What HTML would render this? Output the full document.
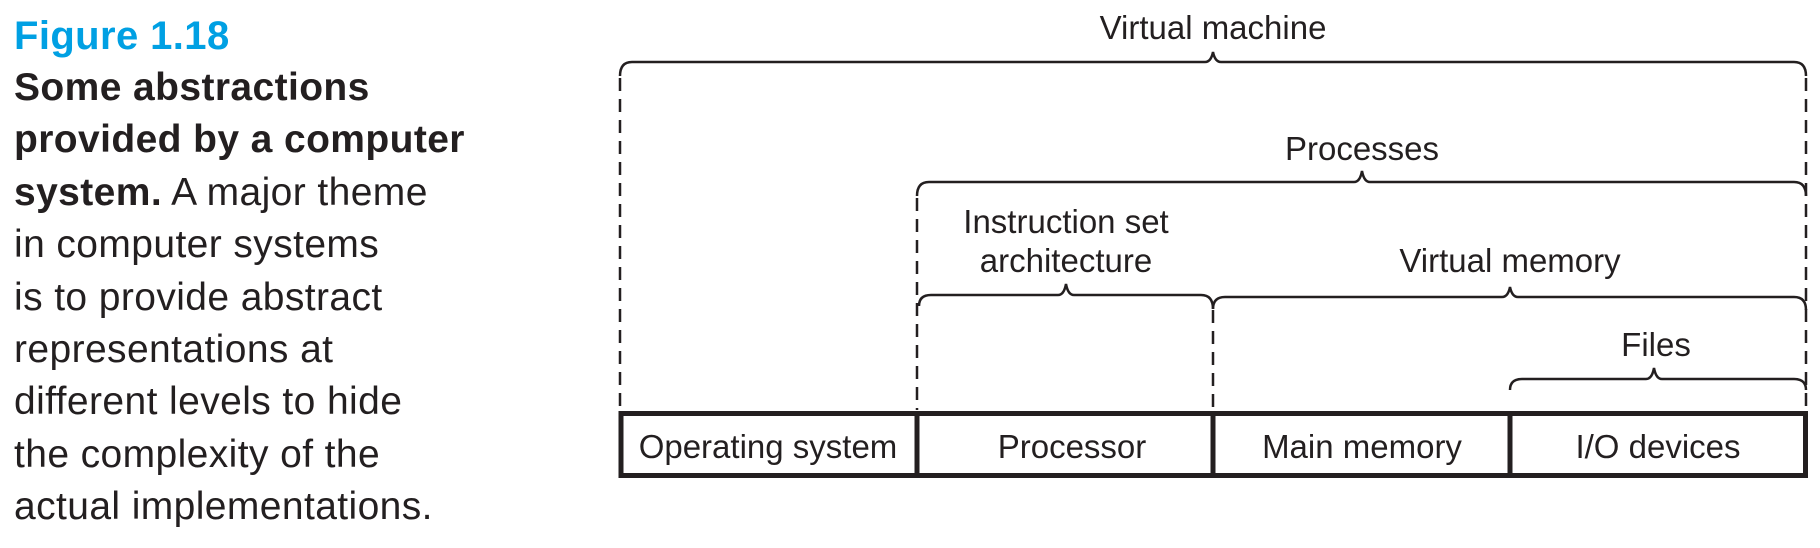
<!DOCTYPE html>
<html><head><meta charset="utf-8"><style>
html,body{margin:0;padding:0;background:#fff;}
body{width:1820px;height:548px;overflow:hidden;position:relative;font-family:"Liberation Sans",sans-serif;color:#231f20;}
.cap{position:absolute;left:14px;font-size:39px;line-height:52.4px;letter-spacing:0.4px;white-space:nowrap;}
</style></head><body>
<div class="cap" style="top:10px;color:#00a0e3;font-weight:bold;font-size:40px;">Figure 1.18</div>
<div class="cap" style="top:62px;width:480px;">
<b>Some abstractions</b><br>
<b>provided by a computer</b><br>
<b>system.</b> A major theme<br>
in computer systems<br>
is to provide abstract<br>
representations at<br>
different levels to hide<br>
the complexity of the<br>
actual implementations.
</div>
<svg width="1820" height="548" style="position:absolute;left:0;top:0" xmlns="http://www.w3.org/2000/svg">
<g fill="none" stroke="#231f20" stroke-width="2.5">
<path d="M620 76 Q620 62 632 62 L1205 62 Q1211 62 1213 52 Q1215 62 1221 62 L1794 62 Q1806 62 1806 76"/>
<path d="M917 196 Q917 182 929 182 L1354 182 Q1360 182 1362 171 Q1364 182 1370 182 L1794 182 Q1806 182 1806 196"/>
<path d="M919 306 Q919 295 931 295 L1058 295 Q1064 295 1066 284 Q1068 295 1074 295 L1201 295 Q1213 295 1213 309"/>
<path d="M1213 309 Q1213 297 1225 297 L1502 297 Q1508 297 1510 287 Q1512 297 1518 297 L1794 297 Q1806 297 1806 310"/>
<path d="M1510 390 Q1510 379 1522 379 L1646 379 Q1652 379 1654 368 Q1656 379 1662 379 L1794 379 Q1806 379 1806 390"/>
</g>
<g stroke="#231f20" stroke-width="2.5" stroke-dasharray="13,8">
<line x1="620" y1="78" x2="620" y2="410"/>
<line x1="917" y1="198" x2="917" y2="410"/>
<line x1="1213" y1="310" x2="1213" y2="410"/>
<line x1="1806" y1="78" x2="1806" y2="410"/>
</g>
<rect x="621" y="413.5" width="1184.5" height="62" fill="none" stroke="#231f20" stroke-width="5"/>
<g stroke="#231f20" stroke-width="5">
<line x1="917" y1="411" x2="917" y2="478"/>
<line x1="1213" y1="411" x2="1213" y2="478"/>
<line x1="1510" y1="411" x2="1510" y2="478"/>
</g>
<g font-family="Liberation Sans, sans-serif" font-size="33" fill="#231f20" text-anchor="middle">
<text x="1213" y="39">Virtual machine</text>
<text x="1362" y="160">Processes</text>
<text x="1066" y="233">Instruction set</text>
<text x="1066" y="272">architecture</text>
<text x="1510" y="272">Virtual memory</text>
<text x="1656" y="356">Files</text>
<text x="768" y="458">Operating system</text>
<text x="1072" y="458">Processor</text>
<text x="1362" y="458">Main memory</text>
<text x="1658" y="458">I/O devices</text>
</g>
</svg>
</body></html>
